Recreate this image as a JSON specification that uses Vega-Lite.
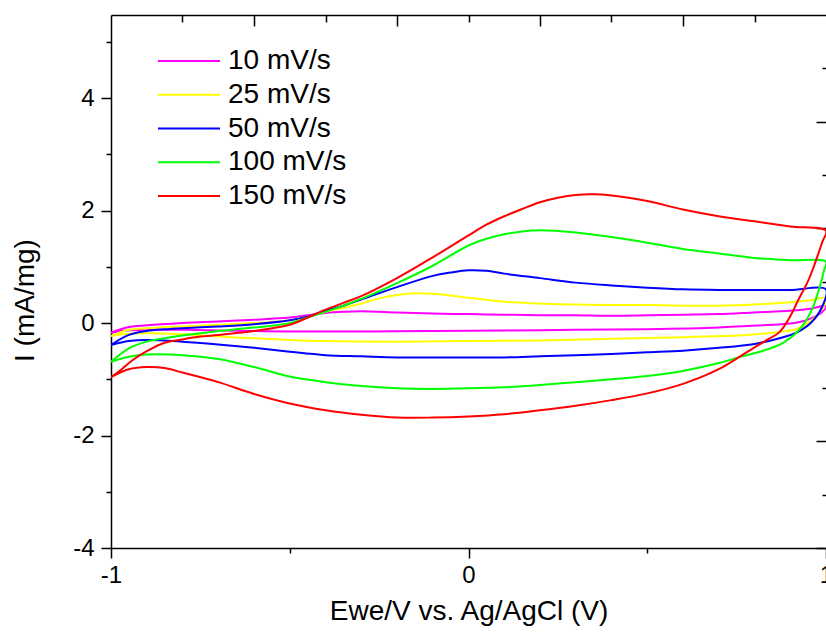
{
"$schema": "https://vega.github.io/schema/vega-lite/v6.json",
"width": 715, "height": 533,
"autosize": {"type": "none"},
"padding": {"left": 111, "top": 15, "right": 0, "bottom": 85},
"background": "white",
"datasets": {
"cv": [
{"rate":"10 mV/s","i":0,"x":-1,"y":-0.17},{"rate":"10 mV/s","i":1,"x":-0.95,"y":-0.07},{"rate":"10 mV/s","i":2,"x":-0.9,"y":-0.04},{"rate":"10 mV/s","i":3,"x":-0.8,"y":0.0},{"rate":"10 mV/s","i":4,"x":-0.7,"y":0.03},{"rate":"10 mV/s","i":5,"x":-0.6,"y":0.06},{"rate":"10 mV/s","i":6,"x":-0.5,"y":0.1},{"rate":"10 mV/s","i":7,"x":-0.45,"y":0.14},{"rate":"10 mV/s","i":8,"x":-0.4,"y":0.18},{"rate":"10 mV/s","i":9,"x":-0.35,"y":0.2},{"rate":"10 mV/s","i":10,"x":-0.3,"y":0.21},{"rate":"10 mV/s","i":11,"x":-0.2,"y":0.19},{"rate":"10 mV/s","i":12,"x":-0.1,"y":0.17},{"rate":"10 mV/s","i":13,"x":0,"y":0.16},{"rate":"10 mV/s","i":14,"x":0.1,"y":0.15},{"rate":"10 mV/s","i":15,"x":0.2,"y":0.14},{"rate":"10 mV/s","i":16,"x":0.3,"y":0.14},{"rate":"10 mV/s","i":17,"x":0.4,"y":0.13},{"rate":"10 mV/s","i":18,"x":0.5,"y":0.14},{"rate":"10 mV/s","i":19,"x":0.6,"y":0.15},{"rate":"10 mV/s","i":20,"x":0.7,"y":0.16},{"rate":"10 mV/s","i":21,"x":0.8,"y":0.19},{"rate":"10 mV/s","i":22,"x":0.9,"y":0.22},{"rate":"10 mV/s","i":23,"x":0.95,"y":0.25},{"rate":"10 mV/s","i":24,"x":1,"y":0.3},
{"rate":"10 mV/s","i":25,"x":0.99,"y":0.2},{"rate":"10 mV/s","i":26,"x":0.96,"y":0.09},{"rate":"10 mV/s","i":27,"x":0.92,"y":0.01},{"rate":"10 mV/s","i":28,"x":0.85,"y":-0.03},{"rate":"10 mV/s","i":29,"x":0.78,"y":-0.05},{"rate":"10 mV/s","i":30,"x":0.7,"y":-0.08},{"rate":"10 mV/s","i":31,"x":0.5,"y":-0.11},{"rate":"10 mV/s","i":32,"x":0.3,"y":-0.12},{"rate":"10 mV/s","i":33,"x":0.1,"y":-0.13},{"rate":"10 mV/s","i":34,"x":-0.1,"y":-0.14},{"rate":"10 mV/s","i":35,"x":-0.3,"y":-0.15},{"rate":"10 mV/s","i":36,"x":-0.5,"y":-0.15},{"rate":"10 mV/s","i":37,"x":-0.6,"y":-0.14},{"rate":"10 mV/s","i":38,"x":-0.7,"y":-0.13},{"rate":"10 mV/s","i":39,"x":-0.8,"y":-0.12},{"rate":"10 mV/s","i":40,"x":-0.9,"y":-0.12},{"rate":"10 mV/s","i":41,"x":-0.97,"y":-0.14},{"rate":"10 mV/s","i":42,"x":-1,"y":-0.17},

{"rate":"25 mV/s","i":0,"x":-1,"y":-0.23},{"rate":"25 mV/s","i":1,"x":-0.95,"y":-0.12},{"rate":"25 mV/s","i":2,"x":-0.9,"y":-0.09},{"rate":"25 mV/s","i":3,"x":-0.8,"y":-0.06},{"rate":"25 mV/s","i":4,"x":-0.7,"y":-0.03},{"rate":"25 mV/s","i":5,"x":-0.6,"y":0.0},{"rate":"25 mV/s","i":6,"x":-0.5,"y":0.05},{"rate":"25 mV/s","i":7,"x":-0.45,"y":0.12},{"rate":"25 mV/s","i":8,"x":-0.4,"y":0.2},{"rate":"25 mV/s","i":9,"x":-0.35,"y":0.27},{"rate":"25 mV/s","i":10,"x":-0.3,"y":0.35},{"rate":"25 mV/s","i":11,"x":-0.25,"y":0.44},{"rate":"25 mV/s","i":12,"x":-0.2,"y":0.5},{"rate":"25 mV/s","i":13,"x":-0.15,"y":0.53},{"rate":"25 mV/s","i":14,"x":-0.1,"y":0.52},{"rate":"25 mV/s","i":15,"x":-0.05,"y":0.49},{"rate":"25 mV/s","i":16,"x":0,"y":0.45},{"rate":"25 mV/s","i":17,"x":0.1,"y":0.38},{"rate":"25 mV/s","i":18,"x":0.2,"y":0.35},{"rate":"25 mV/s","i":19,"x":0.3,"y":0.33},{"rate":"25 mV/s","i":20,"x":0.5,"y":0.32},{"rate":"25 mV/s","i":21,"x":0.7,"y":0.31},{"rate":"25 mV/s","i":22,"x":0.8,"y":0.33},{"rate":"25 mV/s","i":23,"x":0.9,"y":0.37},{"rate":"25 mV/s","i":24,"x":0.95,"y":0.4},{"rate":"25 mV/s","i":25,"x":1,"y":0.45},
{"rate":"25 mV/s","i":26,"x":0.99,"y":0.27},{"rate":"25 mV/s","i":27,"x":0.96,"y":0.05},{"rate":"25 mV/s","i":28,"x":0.92,"y":-0.1},{"rate":"25 mV/s","i":29,"x":0.85,"y":-0.17},{"rate":"25 mV/s","i":30,"x":0.78,"y":-0.21},{"rate":"25 mV/s","i":31,"x":0.6,"y":-0.25},{"rate":"25 mV/s","i":32,"x":0.4,"y":-0.28},{"rate":"25 mV/s","i":33,"x":0.2,"y":-0.31},{"rate":"25 mV/s","i":34,"x":0,"y":-0.32},{"rate":"25 mV/s","i":35,"x":-0.2,"y":-0.33},{"rate":"25 mV/s","i":36,"x":-0.4,"y":-0.32},{"rate":"25 mV/s","i":37,"x":-0.5,"y":-0.3},{"rate":"25 mV/s","i":38,"x":-0.6,"y":-0.27},{"rate":"25 mV/s","i":39,"x":-0.7,"y":-0.24},{"rate":"25 mV/s","i":40,"x":-0.8,"y":-0.2},{"rate":"25 mV/s","i":41,"x":-0.9,"y":-0.18},{"rate":"25 mV/s","i":42,"x":-0.97,"y":-0.2},{"rate":"25 mV/s","i":43,"x":-1,"y":-0.23},

{"rate":"50 mV/s","i":0,"x":-1,"y":-0.39},{"rate":"50 mV/s","i":1,"x":-0.95,"y":-0.21},{"rate":"50 mV/s","i":2,"x":-0.9,"y":-0.14},{"rate":"50 mV/s","i":3,"x":-0.85,"y":-0.11},{"rate":"50 mV/s","i":4,"x":-0.8,"y":-0.09},{"rate":"50 mV/s","i":5,"x":-0.7,"y":-0.06},{"rate":"50 mV/s","i":6,"x":-0.6,"y":-0.02},{"rate":"50 mV/s","i":7,"x":-0.5,"y":0.05},{"rate":"50 mV/s","i":8,"x":-0.45,"y":0.12},{"rate":"50 mV/s","i":9,"x":-0.4,"y":0.22},{"rate":"50 mV/s","i":10,"x":-0.35,"y":0.31},{"rate":"50 mV/s","i":11,"x":-0.3,"y":0.42},{"rate":"50 mV/s","i":12,"x":-0.2,"y":0.64},{"rate":"50 mV/s","i":13,"x":-0.1,"y":0.84},{"rate":"50 mV/s","i":14,"x":-0.05,"y":0.9},{"rate":"50 mV/s","i":15,"x":0,"y":0.94},{"rate":"50 mV/s","i":16,"x":0.05,"y":0.93},{"rate":"50 mV/s","i":17,"x":0.1,"y":0.88},{"rate":"50 mV/s","i":18,"x":0.2,"y":0.8},{"rate":"50 mV/s","i":19,"x":0.3,"y":0.72},{"rate":"50 mV/s","i":20,"x":0.4,"y":0.67},{"rate":"50 mV/s","i":21,"x":0.5,"y":0.63},{"rate":"50 mV/s","i":22,"x":0.6,"y":0.6},{"rate":"50 mV/s","i":23,"x":0.7,"y":0.59},{"rate":"50 mV/s","i":24,"x":0.8,"y":0.59},{"rate":"50 mV/s","i":25,"x":0.9,"y":0.59},{"rate":"50 mV/s","i":26,"x":1,"y":0.6},
{"rate":"50 mV/s","i":27,"x":0.99,"y":0.3},{"rate":"50 mV/s","i":28,"x":0.96,"y":0.02},{"rate":"50 mV/s","i":29,"x":0.92,"y":-0.16},{"rate":"50 mV/s","i":30,"x":0.87,"y":-0.27},{"rate":"50 mV/s","i":31,"x":0.8,"y":-0.37},{"rate":"50 mV/s","i":32,"x":0.7,"y":-0.44},{"rate":"50 mV/s","i":33,"x":0.6,"y":-0.49},{"rate":"50 mV/s","i":34,"x":0.5,"y":-0.52},{"rate":"50 mV/s","i":35,"x":0.4,"y":-0.55},{"rate":"50 mV/s","i":36,"x":0.3,"y":-0.57},{"rate":"50 mV/s","i":37,"x":0.2,"y":-0.59},{"rate":"50 mV/s","i":38,"x":0.1,"y":-0.61},{"rate":"50 mV/s","i":39,"x":0,"y":-0.61},{"rate":"50 mV/s","i":40,"x":-0.1,"y":-0.61},{"rate":"50 mV/s","i":41,"x":-0.2,"y":-0.61},{"rate":"50 mV/s","i":42,"x":-0.3,"y":-0.59},{"rate":"50 mV/s","i":43,"x":-0.4,"y":-0.57},{"rate":"50 mV/s","i":44,"x":-0.5,"y":-0.51},{"rate":"50 mV/s","i":45,"x":-0.6,"y":-0.44},{"rate":"50 mV/s","i":46,"x":-0.7,"y":-0.38},{"rate":"50 mV/s","i":47,"x":-0.8,"y":-0.33},{"rate":"50 mV/s","i":48,"x":-0.9,"y":-0.3},{"rate":"50 mV/s","i":49,"x":-0.95,"y":-0.32},{"rate":"50 mV/s","i":50,"x":-1,"y":-0.39},

{"rate":"100 mV/s","i":0,"x":-1,"y":-0.69},{"rate":"100 mV/s","i":1,"x":-0.95,"y":-0.45},{"rate":"100 mV/s","i":2,"x":-0.9,"y":-0.33},{"rate":"100 mV/s","i":3,"x":-0.85,"y":-0.27},{"rate":"100 mV/s","i":4,"x":-0.8,"y":-0.22},{"rate":"100 mV/s","i":5,"x":-0.75,"y":-0.18},{"rate":"100 mV/s","i":6,"x":-0.7,"y":-0.14},{"rate":"100 mV/s","i":7,"x":-0.6,"y":-0.08},{"rate":"100 mV/s","i":8,"x":-0.5,"y":0.0},{"rate":"100 mV/s","i":9,"x":-0.45,"y":0.1},{"rate":"100 mV/s","i":10,"x":-0.4,"y":0.2},{"rate":"100 mV/s","i":11,"x":-0.35,"y":0.31},{"rate":"100 mV/s","i":12,"x":-0.3,"y":0.43},{"rate":"100 mV/s","i":13,"x":-0.2,"y":0.71},{"rate":"100 mV/s","i":14,"x":-0.1,"y":1.02},{"rate":"100 mV/s","i":15,"x":0,"y":1.38},{"rate":"100 mV/s","i":16,"x":0.05,"y":1.5},{"rate":"100 mV/s","i":17,"x":0.1,"y":1.58},{"rate":"100 mV/s","i":18,"x":0.15,"y":1.63},{"rate":"100 mV/s","i":19,"x":0.2,"y":1.65},{"rate":"100 mV/s","i":20,"x":0.3,"y":1.61},{"rate":"100 mV/s","i":21,"x":0.4,"y":1.53},{"rate":"100 mV/s","i":22,"x":0.5,"y":1.43},{"rate":"100 mV/s","i":23,"x":0.6,"y":1.32},{"rate":"100 mV/s","i":24,"x":0.7,"y":1.24},{"rate":"100 mV/s","i":25,"x":0.8,"y":1.16},{"rate":"100 mV/s","i":26,"x":0.9,"y":1.12},{"rate":"100 mV/s","i":27,"x":1,"y":1.09},
{"rate":"100 mV/s","i":28,"x":0.995,"y":0.95},{"rate":"100 mV/s","i":29,"x":0.98,"y":0.59},{"rate":"100 mV/s","i":30,"x":0.96,"y":0.23},{"rate":"100 mV/s","i":31,"x":0.925,"y":-0.12},{"rate":"100 mV/s","i":32,"x":0.88,"y":-0.35},{"rate":"100 mV/s","i":33,"x":0.82,"y":-0.5},{"rate":"100 mV/s","i":34,"x":0.76,"y":-0.6},{"rate":"100 mV/s","i":35,"x":0.7,"y":-0.71},{"rate":"100 mV/s","i":36,"x":0.6,"y":-0.85},{"rate":"100 mV/s","i":37,"x":0.5,"y":-0.94},{"rate":"100 mV/s","i":38,"x":0.4,"y":-1.0},{"rate":"100 mV/s","i":39,"x":0.3,"y":-1.05},{"rate":"100 mV/s","i":40,"x":0.2,"y":-1.1},{"rate":"100 mV/s","i":41,"x":0.1,"y":-1.14},{"rate":"100 mV/s","i":42,"x":0,"y":-1.16},{"rate":"100 mV/s","i":43,"x":-0.1,"y":-1.17},{"rate":"100 mV/s","i":44,"x":-0.2,"y":-1.16},{"rate":"100 mV/s","i":45,"x":-0.3,"y":-1.12},{"rate":"100 mV/s","i":46,"x":-0.4,"y":-1.05},{"rate":"100 mV/s","i":47,"x":-0.5,"y":-0.95},{"rate":"100 mV/s","i":48,"x":-0.6,"y":-0.78},{"rate":"100 mV/s","i":49,"x":-0.7,"y":-0.64},{"rate":"100 mV/s","i":50,"x":-0.8,"y":-0.57},{"rate":"100 mV/s","i":51,"x":-0.9,"y":-0.56},{"rate":"100 mV/s","i":52,"x":-0.95,"y":-0.6},{"rate":"100 mV/s","i":53,"x":-1,"y":-0.69},

{"rate":"150 mV/s","i":0,"x":-1,"y":-0.96},{"rate":"150 mV/s","i":1,"x":-0.97,"y":-0.82},{"rate":"150 mV/s","i":2,"x":-0.94,"y":-0.66},{"rate":"150 mV/s","i":3,"x":-0.9,"y":-0.5},{"rate":"150 mV/s","i":4,"x":-0.85,"y":-0.35},{"rate":"150 mV/s","i":5,"x":-0.8,"y":-0.29},{"rate":"150 mV/s","i":6,"x":-0.75,"y":-0.24},{"rate":"150 mV/s","i":7,"x":-0.7,"y":-0.21},{"rate":"150 mV/s","i":8,"x":-0.6,"y":-0.14},{"rate":"150 mV/s","i":9,"x":-0.5,"y":-0.03},{"rate":"150 mV/s","i":10,"x":-0.45,"y":0.1},{"rate":"150 mV/s","i":11,"x":-0.4,"y":0.24},{"rate":"150 mV/s","i":12,"x":-0.35,"y":0.36},{"rate":"150 mV/s","i":13,"x":-0.3,"y":0.48},{"rate":"150 mV/s","i":14,"x":-0.2,"y":0.8},{"rate":"150 mV/s","i":15,"x":-0.1,"y":1.17},{"rate":"150 mV/s","i":16,"x":0,"y":1.56},{"rate":"150 mV/s","i":17,"x":0.05,"y":1.75},{"rate":"150 mV/s","i":18,"x":0.1,"y":1.9},{"rate":"150 mV/s","i":19,"x":0.15,"y":2.03},{"rate":"150 mV/s","i":20,"x":0.2,"y":2.15},{"rate":"150 mV/s","i":21,"x":0.25,"y":2.23},{"rate":"150 mV/s","i":22,"x":0.3,"y":2.28},{"rate":"150 mV/s","i":23,"x":0.35,"y":2.29},{"rate":"150 mV/s","i":24,"x":0.4,"y":2.27},{"rate":"150 mV/s","i":25,"x":0.5,"y":2.17},{"rate":"150 mV/s","i":26,"x":0.6,"y":2.02},{"rate":"150 mV/s","i":27,"x":0.7,"y":1.9},{"rate":"150 mV/s","i":28,"x":0.8,"y":1.81},{"rate":"150 mV/s","i":29,"x":0.9,"y":1.72},{"rate":"150 mV/s","i":30,"x":1,"y":1.64},
{"rate":"150 mV/s","i":31,"x":0.99,"y":1.45},{"rate":"150 mV/s","i":32,"x":0.97,"y":1.08},{"rate":"150 mV/s","i":33,"x":0.95,"y":0.75},{"rate":"150 mV/s","i":34,"x":0.92,"y":0.38},{"rate":"150 mV/s","i":35,"x":0.9,"y":0.12},{"rate":"150 mV/s","i":36,"x":0.87,"y":-0.16},{"rate":"150 mV/s","i":37,"x":0.84,"y":-0.28},{"rate":"150 mV/s","i":38,"x":0.8,"y":-0.43},{"rate":"150 mV/s","i":39,"x":0.7,"y":-0.82},{"rate":"150 mV/s","i":40,"x":0.6,"y":-1.08},{"rate":"150 mV/s","i":41,"x":0.5,"y":-1.25},{"rate":"150 mV/s","i":42,"x":0.4,"y":-1.37},{"rate":"150 mV/s","i":43,"x":0.3,"y":-1.47},{"rate":"150 mV/s","i":44,"x":0.2,"y":-1.55},{"rate":"150 mV/s","i":45,"x":0.1,"y":-1.62},{"rate":"150 mV/s","i":46,"x":0,"y":-1.66},{"rate":"150 mV/s","i":47,"x":-0.1,"y":-1.68},{"rate":"150 mV/s","i":48,"x":-0.2,"y":-1.68},{"rate":"150 mV/s","i":49,"x":-0.3,"y":-1.63},{"rate":"150 mV/s","i":50,"x":-0.4,"y":-1.55},{"rate":"150 mV/s","i":51,"x":-0.5,"y":-1.43},{"rate":"150 mV/s","i":52,"x":-0.6,"y":-1.26},{"rate":"150 mV/s","i":53,"x":-0.7,"y":-1.05},{"rate":"150 mV/s","i":54,"x":-0.8,"y":-0.88},{"rate":"150 mV/s","i":55,"x":-0.85,"y":-0.8},{"rate":"150 mV/s","i":56,"x":-0.9,"y":-0.78},{"rate":"150 mV/s","i":57,"x":-0.95,"y":-0.82},{"rate":"150 mV/s","i":58,"x":-1,"y":-0.96}
]
},
"data": {"name": "cv"},
"layer": [
{
"mark": {"type": "line", "strokeWidth": 2, "clip": true, "interpolate": "catmull-rom"},
"encoding": {
"x": {"field": "x", "type": "quantitative", "scale": {"domain": [-1, 1], "nice": false, "zero": false},
"axis": {"orient": "bottom", "values": [-1, 0, 1], "tickSize": 10, "labelFontSize": 24, "labelPadding": 5, "labelFlush": false, "labelOverlap": false, "labelExpr": "datum.value < 0 ? '-' + abs(datum.value) : '' + datum.value", "title": "Ewe/V vs. Ag/AgCl (V)", "titleFontSize": 28, "titleFontWeight": "normal", "titleBaseline": "alphabetic", "titleY": 71, "domain": true}},
"y": {"field": "y", "type": "quantitative", "scale": {"domain": [-4, 5.48], "nice": false, "zero": false},
"axis": {"orient": "left", "values": [-4, -2, 0, 2, 4], "tickSize": 10, "labelFontSize": 24, "labelPadding": 7, "labelOverlap": false, "labelFlush": false, "labelExpr": "datum.value < 0 ? '-' + abs(datum.value) : '' + datum.value", "title": "I (mA/mg)", "titleFontSize": 28, "titleFontWeight": "normal", "titleAngle": -90, "titleAlign": "center", "titleBaseline": "alphabetic", "titleX": -78, "titleY": 285, "domain": true}},
"color": {"field": "rate", "type": "nominal",
"scale": {"domain": ["10 mV/s", "25 mV/s", "50 mV/s", "100 mV/s", "150 mV/s"], "range": ["#ff00ff", "#ffff00", "#0000ff", "#00ff00", "#ff0000"]},
"legend": {"title": null, "orient": "none", "legendX": 46, "legendY": 32, "symbolType": "stroke", "symbolSize": 3844, "symbolStrokeWidth": 2, "clipHeight": 28, "rowPadding": 5.75, "labelFontSize": 28, "labelOffset": 7, "padding": 0, "labelLimit": 400, "labelFont": "Liberation Sans", "labelColor": "#000000"}},
"order": {"field": "i", "type": "quantitative"}
}
},
{
"mark": {"type": "point", "opacity": 0},
"encoding": {
"x": {"field": "x", "type": "quantitative", "scale": {"domain": [-1, 1], "nice": false, "zero": false},
"axis": {"orient": "bottom", "values": [-0.5, 0.5], "tickSize": 5, "labels": false, "domain": false, "title": null}},
"y": {"field": "y", "type": "quantitative", "scale": {"domain": [-4, 5.48], "nice": false, "zero": false},
"axis": {"orient": "left", "values": [-3, -1, 1, 3, 5], "tickSize": 5, "labels": false, "domain": false, "title": null}}
}
},
{
"mark": {"type": "point", "opacity": 0},
"encoding": {
"x": {"field": "x", "type": "quantitative", "scale": {"domain": [-1, 1], "nice": false, "zero": false},
"axis": {"orient": "top", "values": [-0.8, -0.4, 0, 0.4, 0.8], "tickSize": -7, "labels": false, "domain": true, "title": null}},
"y": {"field": "y", "type": "quantitative", "scale": {"domain": [-4, 5.48], "nice": false, "zero": false},
"axis": {"orient": "right", "values": [4.533, 2.631, 0.729, -1.156, -3.058], "tickSize": -4, "labels": false, "domain": false, "title": null}}
}
},
{
"mark": {"type": "point", "opacity": 0},
"encoding": {
"x": {"field": "x", "type": "quantitative", "scale": {"domain": [-1, 1], "nice": false, "zero": false},
"axis": {"orient": "top", "values": [-0.6, -0.2, 0.2, 0.6], "tickSize": -11, "labels": false, "domain": false, "title": null}},
"y": {"field": "y", "type": "quantitative", "scale": {"domain": [-4, 5.48], "nice": false, "zero": false},
"axis": {"orient": "right", "values": [3.573, 1.689, -0.213, -2.098, -4], "tickSize": -10, "labels": false, "domain": false, "title": null}}
}
}
],
"resolve": {"axis": {"x": "independent", "y": "independent"}},
"config": {
"view": {"stroke": null},
"font": "Liberation Sans",
"axis": {"grid": false, "domainColor": "#000000", "tickColor": "#000000", "labelColor": "#000000", "titleColor": "#000000", "domainWidth": 1.5, "tickWidth": 1.5, "labelFont": "Liberation Sans", "titleFont": "Liberation Sans"}
}
}
